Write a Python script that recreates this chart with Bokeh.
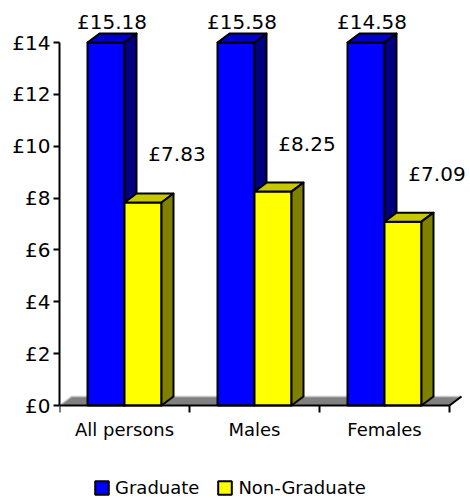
from bokeh.plotting import figure
from bokeh.models import ColumnDataSource, Range1d, FixedTicker, Legend, LegendItem
from bokeh.core.properties import value
from bokeh.embed import file_html
from bokeh.resources import INLINE

# ---- data ----
categories = ["All persons", "Males", "Females"]
graduate = [15.18, 15.58, 14.58]
non_graduate = [7.83, 8.25, 7.09]
series_names = ["Graduate", "Non-Graduate"]
y_ticks = [0, 2, 4, 6, 8, 10, 12, 14]
y_tick_labels = ["£0", "£2", "£4", "£6", "£8", "£10", "£12", "£14"]

# ---- layout ----
W, H = 470, 500
LEFT = 59
BASE_PX = 405          # screen row of the value 0
frame_w = W - LEFT
y_max = y_ticks[-1]
n = len(categories)
px_per_x = 130.0
px_per_y = 363.0 / y_max
x_end = frame_w / px_per_x
y_start = -(H - BASE_PX) / px_per_y
y_end = BASE_PX / px_per_y
bar_w = 37.0 / px_per_x
dx = 12.0 / px_per_x
dy = 9.0 / px_per_y
FONT = "DejaVu Sans"

p = figure(width=W, height=H, x_range=Range1d(0, x_end), y_range=Range1d(y_start, y_end),
           output_backend="svg", toolbar_location=None,
           min_border_left=LEFT, min_border_right=0, min_border_top=0,
           min_border_bottom=0)
p.outline_line_color = None
p.xgrid.grid_line_color = None
p.ygrid.grid_line_color = None
p.background_fill_color = "white"
p.border_fill_color = "white"

# ---- floor ----
p.patch([0, n, n + dx, dx], [0, 0, dy, dy], fill_color="#808080", line_color=None)
p.line([0, dx, n + dx], [0, dy, dy], line_color="#C8C8C8", line_width=1.5)
p.line([n, n + dx], [0, dy], line_color="black", line_width=2)


def draw_series(vals, offset, front, top, side):
    h = [min(v, y_max) for v in vals]
    lefts = [i + 0.5 + offset for i in range(n)]
    rights = [l + bar_w for l in lefts]
    src = ColumnDataSource(dict(left=lefts, right=rights, top=h))
    r = p.quad(left="left", right="right", bottom=0, top="top", source=src,
               fill_color=front, line_color="black", line_width=2)
    top_xs = [[l, rr, rr + dx, l + dx] for l, rr in zip(lefts, rights)]
    top_ys = [[t, t, t + dy, t + dy] for t in h]
    p.patches(top_xs, top_ys, fill_color=top, line_color="black", line_width=2,
              line_join="round")
    side_xs = [[rr, rr + dx, rr + dx, rr] for rr in rights]
    side_ys = [[0, dy, t + dy, t] for t in h]
    p.patches(side_xs, side_ys, fill_color=side, line_color="black", line_width=2,
              line_join="round")
    return r, lefts, h


r_grad, g_lefts, g_h = draw_series(graduate, -bar_w, "#0000FF", "#0000C8", "#000080")
r_ng, n_lefts, n_h = draw_series(non_graduate, 0.0, "#FFFF00", "#C8C800", "#808000")

# ---- value labels ----
p.text(x=[l + bar_w / 2 for l in g_lefts], y=g_h,
       text=["£%.2f" % v for v in graduate],
       text_align="center", text_baseline="middle", x_offset=6, y_offset=-21,
       text_font=value(FONT), text_font_size="20px", text_color="black")
p.text(x=[l + bar_w / 2 for l in n_lefts], y=non_graduate,
       text=["£%.2f" % v for v in non_graduate],
       text_align="center", text_baseline="middle", x_offset=34, y_offset=-48,
       text_font=value(FONT), text_font_size="20px", text_color="black")

# ---- axes ----
ya = p.yaxis[0]
ya.ticker = FixedTicker(ticks=y_ticks)
ya.major_label_overrides = {t: lab for t, lab in zip(y_ticks, y_tick_labels)}
ya.bounds = (0, y_max)
ya.axis_line_width = 2
ya.axis_line_color = "black"
ya.major_tick_line_width = 2
ya.major_tick_line_color = "black"
ya.major_tick_out = 6
ya.major_tick_in = 0
ya.minor_tick_out = 0
ya.minor_tick_in = 0
ya.major_label_standoff = 3
ya.major_label_text_font = FONT
ya.major_label_text_font_size = "20px"
ya.major_label_text_color = "black"

xa = p.xaxis[0]
centers = [i + 0.5 for i in range(n)]
xa.fixed_location = 0
xa.ticker = FixedTicker(ticks=centers, minor_ticks=list(range(n + 1)))
xa.major_label_overrides = {c: lab for c, lab in zip(centers, categories)}
xa.bounds = (0, n)
xa.axis_line_width = 2
xa.axis_line_color = "black"
xa.major_tick_out = 0
xa.major_tick_in = 0
xa.minor_tick_out = 7
xa.minor_tick_in = 0
xa.minor_tick_line_width = 2
xa.minor_tick_line_color = "black"
xa.major_label_standoff = 6
xa.major_label_text_font = FONT
xa.major_label_text_font_size = "18px"
xa.major_label_text_color = "black"

# ---- legend ----
legend = Legend(items=[LegendItem(label=series_names[0], renderers=[r_grad]),
                       LegendItem(label=series_names[1], renderers=[r_ng])],
                orientation="horizontal", location=(34, 2),
                glyph_width=17, glyph_height=17, label_standoff=5, spacing=17,
                padding=2, margin=0, border_line_color=None,
                background_fill_alpha=0,
                label_text_font=FONT, label_text_font_size="18px",
                label_text_color="black", label_height=17)
p.add_layout(legend)

open("out.html", "w").write(file_html(p, INLINE))
